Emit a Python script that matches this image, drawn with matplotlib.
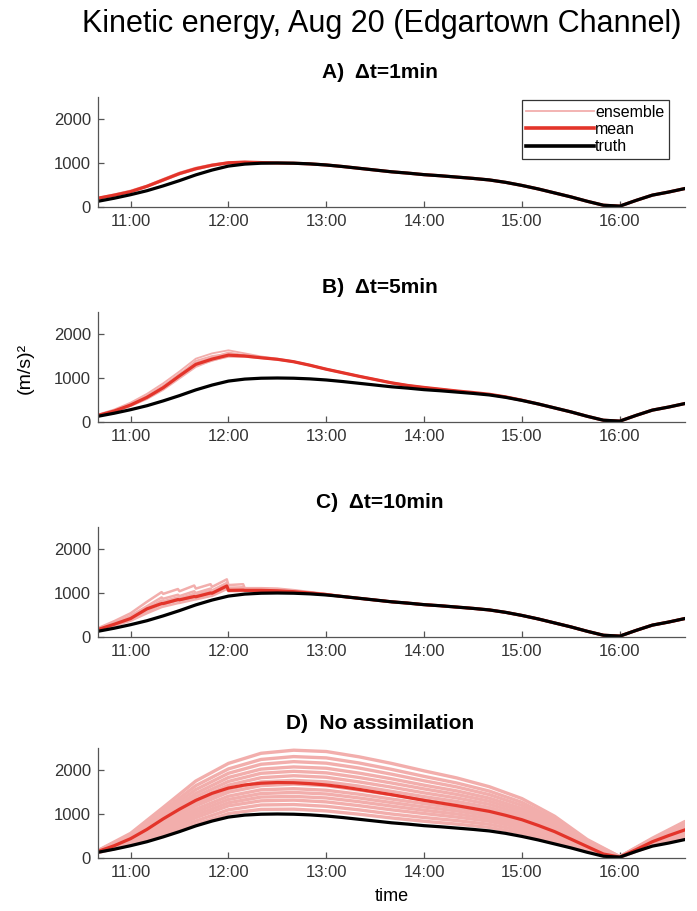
import matplotlib.pyplot as plt
import numpy as np
from matplotlib.lines import Line2D

plt.rcParams["font.family"] = ["Liberation Sans Narrow", "Liberation Sans", "DejaVu Sans"]

ENS_COLOR = "#f2aeac"
MEAN_COLOR = "#e3342a"


def hours(hhmm):
    h, m = hhmm.split(":")
    return int(h) + int(m) / 60.0


# model output every 10 min (10:40 - 16:40), free-run members every 20 min
t10 = np.arange(10 * 60 + 40, 16 * 60 + 41, 10) / 60.0
t20 = np.arange(10 * 60 + 40, 16 * 60 + 41, 20) / 60.0

tick_hours = [11, 12, 13, 14, 15, 16]
tick_labels = ["11:00", "12:00", "13:00", "14:00", "15:00", "16:00"]

# truth run, (m/s)^2
truth = np.array([
    130, 200, 280, 370, 480, 600, 730, 840, 930, 975, 995, 1000,
    995, 980, 955, 920, 880, 840, 800, 770, 735, 710, 680, 650,
    615, 560, 490, 410, 320, 230, 130, 40, 20, 150, 270, 340, 420,
])

# A) dt = 1 min, 10:40 - 12:30 (follows truth afterwards)
mean_a = [200, 270, 350, 470, 615, 760, 870, 950, 1005, 1020, 1010, 1000]
ens_a = [
    [210, 290, 375, 490, 640, 785, 895, 970, 1020, 1030, 1015, 1000],
    [185, 255, 335, 455, 595, 740, 850, 935, 995, 1015, 1005, 1000],
    [200, 275, 360, 480, 625, 770, 880, 960, 1015, 1025, 1012, 1000],
    [190, 262, 345, 462, 605, 750, 860, 942, 998, 1016, 1008, 1000],
]

# B) dt = 5 min, 10:40 - 15:00
mean_b = [150, 250, 385, 560, 780, 1050, 1310, 1430, 1520, 1500, 1460, 1425,
          1370, 1290, 1200, 1120, 1040, 965, 890, 830, 785, 745, 705, 670,
          630, 570, 495]
ens_b = [
    [170, 285, 440, 640, 880, 1150, 1440, 1560, 1630, 1560, 1490, 1440,
     1380, 1300, 1210, 1130, 1050, 975, 900, 840, 790, 750, 710, 665,
     635, 580, 505],
    [140, 230, 360, 520, 730, 990, 1250, 1400, 1480, 1480, 1450, 1415,
     1360, 1280, 1190, 1110, 1030, 955, 880, 820, 780, 740, 700, 655,
     620, 565, 492],
    [160, 265, 410, 600, 830, 1100, 1350, 1470, 1580, 1520, 1470, 1430,
     1375, 1295, 1205, 1125, 1045, 970, 895, 835, 787, 747, 707, 662,
     628, 572, 497],
    [145, 240, 370, 540, 760, 1020, 1280, 1390, 1500, 1490, 1455, 1420,
     1365, 1285, 1195, 1115, 1035, 960, 885, 825, 783, 743, 703, 658,
     624, 568, 493],
    [155, 255, 395, 585, 810, 1080, 1390, 1500, 1550, 1510, 1465, 1428,
     1372, 1292, 1202, 1122, 1042, 967, 892, 832, 786, 746, 706, 661,
     626, 571, 496],
]

# C) dt = 10 min, forecast/analysis pairs around each update, 10:40 - 13:00
times_c = ["10:40", "10:50", "11:00", "11:10", "11:19", "11:20", "11:29",
           "11:30", "11:39", "11:40", "11:49", "11:50", "11:59", "12:00",
           "12:09", "12:10", "12:20", "12:30", "12:40", "12:50", "13:00"]
mean_c = [170, 290, 420, 640, 760, 760, 850, 845, 920, 915, 1000, 995,
          1160, 1060, 1065, 1060, 1060, 1050, 1030, 1000, 965]
ens_c = [
    [200, 360, 540, 800, 1020, 980, 1090, 1040, 1170, 1100, 1200, 1140,
     1310, 1180, 1200, 1110, 1110, 1100, 1065, 1020, 975],
    [185, 320, 480, 700, 900, 870, 960, 930, 1040, 1000, 1100, 1060,
     1230, 1120, 1130, 1090, 1090, 1080, 1050, 1010, 972],
    [175, 300, 450, 650, 830, 810, 900, 880, 980, 960, 1050, 1030,
     1200, 1100, 1110, 1080, 1080, 1072, 1045, 1007, 970],
    [165, 280, 400, 590, 740, 740, 830, 830, 900, 900, 980, 980,
     1130, 1060, 1070, 1060, 1065, 1060, 1040, 1003, 968],
    [150, 255, 370, 540, 680, 690, 770, 775, 850, 855, 930, 935,
     1090, 1040, 1045, 1045, 1050, 1045, 1030, 1000, 965],
]

# D) no assimilation
mean_d = [150, 280, 440, 650, 890, 1110, 1310, 1470, 1590, 1660, 1700, 1715,
          1710, 1690, 1660, 1615, 1560, 1500, 1440, 1375, 1310, 1250, 1190, 1125,
          1060, 970, 870, 740, 600, 430, 260, 90, 20, 190, 370, 510, 640]
ens_d = [
    [125, 295, 515, 765, 1010, 1105, 1110, 1070, 995, 910, 835, 770, 695, 560, 370, 155, 20, 285, 455],
    [130, 315, 565, 840, 1095, 1205, 1215, 1175, 1095, 1000, 920, 850, 765, 620, 415, 175, 20, 295, 480],
    [130, 335, 610, 915, 1185, 1300, 1315, 1275, 1190, 1095, 1010, 930, 835, 680, 460, 195, 22, 310, 510],
    [135, 350, 655, 980, 1255, 1385, 1400, 1365, 1280, 1180, 1085, 1000, 895, 730, 495, 210, 23, 320, 535],
    [135, 370, 695, 1045, 1330, 1465, 1490, 1455, 1365, 1260, 1160, 1070, 955, 780, 535, 230, 23, 330, 560],
    [140, 385, 735, 1110, 1405, 1550, 1575, 1540, 1450, 1340, 1235, 1135, 1015, 835, 570, 245, 24, 340, 585],
    [145, 405, 785, 1185, 1495, 1645, 1680, 1645, 1545, 1435, 1320, 1215, 1085, 895, 615, 265, 25, 355, 615],
    [145, 425, 825, 1245, 1565, 1730, 1765, 1730, 1635, 1515, 1395, 1285, 1150, 945, 655, 285, 25, 365, 635],
    [150, 445, 875, 1320, 1655, 1825, 1870, 1835, 1730, 1610, 1480, 1365, 1220, 1005, 700, 305, 26, 380, 665],
    [155, 465, 920, 1395, 1740, 1925, 1970, 1935, 1830, 1705, 1570, 1445, 1290, 1065, 740, 325, 27, 390, 695],
    [155, 485, 970, 1470, 1830, 2020, 2070, 2040, 1930, 1800, 1655, 1525, 1360, 1125, 785, 345, 27, 405, 725],
    [160, 510, 1025, 1555, 1925, 2130, 2190, 2155, 2045, 1905, 1755, 1615, 1440, 1195, 835, 370, 28, 420, 755],
    [165, 530, 1080, 1645, 2025, 2240, 2305, 2275, 2160, 2015, 1855, 1705, 1520, 1265, 885, 390, 29, 430, 790],
    [170, 560, 1150, 1750, 2150, 2380, 2450, 2420, 2300, 2150, 1980, 1820, 1620, 1350, 950, 420, 30, 450, 830],
]


def style_axes(ax, title):
    ax.set_xlim(hours("10:40"), hours("16:40"))
    ax.set_ylim(0, 2500)
    ax.set_yticks([0, 1000, 2000])
    ax.set_xticks(tick_hours)
    ax.set_xticklabels(tick_labels)
    for side in ["top", "right"]:
        ax.spines[side].set_visible(False)
    for side in ["left", "bottom"]:
        ax.spines[side].set_color("#555555")
        ax.spines[side].set_linewidth(0.9)
    ax.tick_params(direction="in", length=4, width=0.9, color="#555555",
                   labelsize=12, labelcolor="#333333", pad=5)
    ax.set_title(title, fontsize=15, fontweight="bold", x=0.48, pad=14)


def draw(ax, t_ens, members, t_mean, mean, ens_lw=1.3):
    for m in members:
        ax.plot(t_ens, m, color=ENS_COLOR, lw=ens_lw, solid_capstyle="round")
    ax.plot(t_mean, mean, color=MEAN_COLOR, lw=2.3)
    ax.plot(t10, truth, color="black", lw=2.3)


fig = plt.figure(figsize=(6.97, 9.11), dpi=100)
left, width, height = 98 / 697, 587 / 697, 110 / 911
bottoms = [1 - 207 / 911, 1 - 422 / 911, 1 - 637 / 911, 1 - 858 / 911]
axes = [fig.add_axes([left, b, width, height]) for b in bottoms]

# A
tail = truth[12:]
draw(axes[0], t10, [np.concatenate([m, tail]) for m in ens_a],
     t10, np.concatenate([mean_a, tail]))
style_axes(axes[0], "A)  \u0394t=1min")
handles = [Line2D([], [], color=ENS_COLOR, lw=1.3),
           Line2D([], [], color=MEAN_COLOR, lw=2.6),
           Line2D([], [], color="black", lw=2.6)]
leg = axes[0].legend(handles, ["ensemble", "mean", "truth"], loc="upper right",
                     bbox_to_anchor=(0.973, 0.975), fontsize=11.5, handlelength=4.2,
                     handletextpad=0.1, labelspacing=0.15, borderpad=0.3,
                     borderaxespad=0.0, fancybox=False, framealpha=1)
leg.get_frame().set_edgecolor("#333333")
leg.get_frame().set_linewidth(0.9)

# B
tail = truth[27:]
draw(axes[1], t10, [np.concatenate([m, tail]) for m in ens_b],
     t10, np.concatenate([mean_b, tail]))
style_axes(axes[1], "B)  \u0394t=5min")

# C
tc = np.concatenate([[hours(s) for s in times_c], t10[15:]])
tail = truth[15:]
draw(axes[2], tc, [np.concatenate([m, tail]) for m in ens_c],
     tc, np.concatenate([mean_c, tail]), ens_lw=1.8)
style_axes(axes[2], "C)  \u0394t=10min")

# D
draw(axes[3], t20, ens_d, t10, mean_d, ens_lw=2.4)
style_axes(axes[3], "D)  No assimilation")
axes[3].set_xlabel("time", fontsize=13, labelpad=6)

fig.text(0.036, 1 - 368 / 911, "(m/s)\u00b2", rotation=90, ha="center",
         va="center", fontsize=14)
fig.text(0.548, 1 - 24 / 911, "Kinetic energy, Aug 20 (Edgartown Channel)",
         ha="center", va="center", fontsize=22)

fig.savefig("out.png", dpi=100)
